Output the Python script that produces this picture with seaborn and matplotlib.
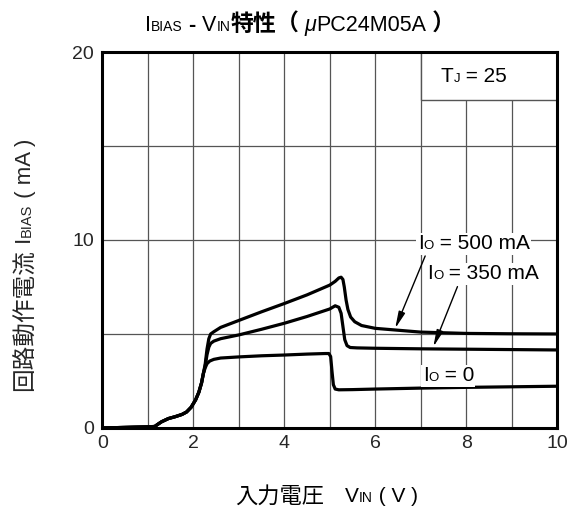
import numpy as np
import pandas as pd
import matplotlib
matplotlib.use("Agg")
import matplotlib.pyplot as plt
import seaborn as sns
from matplotlib.offsetbox import TextArea, HPacker, AnnotationBbox
from matplotlib.patches import Rectangle

# ---------------- data ----------------
vin_io0 = [0, 0.5, 1.0, 1.15, 1.22, 1.3, 1.45, 1.6, 1.75, 1.85, 1.95, 2.05, 2.12, 2.18, 2.22, 2.26,
           2.30, 2.36, 2.45, 2.6, 3.0, 3.5, 4.0, 4.5, 4.9, 4.98, 5.02, 5.05, 5.08, 5.12, 5.2,
           5.5, 6.0, 7.0, 8.0, 9.0, 10.0]
ibias_io0 = [0.0, 0.03, 0.06, 0.08, 0.2, 0.33, 0.5, 0.6, 0.72, 0.85, 1.1, 1.5, 1.9, 2.4, 2.9, 3.2,
             3.42, 3.56, 3.65, 3.72, 3.78, 3.84, 3.88, 3.93, 3.96, 3.96, 3.8, 3.0, 2.3, 2.07, 2.03,
             2.04, 2.07, 2.12, 2.16, 2.19, 2.22]

vin_io350 = [0, 0.5, 1.0, 1.15, 1.22, 1.3, 1.45, 1.6, 1.75, 1.85, 1.95, 2.05, 2.12, 2.18, 2.22, 2.26,
             2.30, 2.34, 2.38, 2.45, 2.6, 3.0, 3.5, 4.0, 4.5, 5.0, 5.12, 5.2, 5.25, 5.29, 5.33,
             5.38, 5.45, 5.6, 6.0, 7.0, 8.0, 9.0, 10.0]
ibias_io350 = [0.0, 0.03, 0.06, 0.08, 0.2, 0.33, 0.5, 0.6, 0.72, 0.85, 1.1, 1.5, 1.9, 2.4, 2.9, 3.3,
               3.9, 4.3, 4.5, 4.62, 4.75, 4.95, 5.25, 5.57, 5.93, 6.33, 6.5, 6.42, 6.1, 5.4, 4.7,
               4.38, 4.28, 4.26, 4.24, 4.21, 4.19, 4.17, 4.15]

vin_io500 = [0, 0.5, 1.0, 1.15, 1.22, 1.3, 1.45, 1.6, 1.75, 1.85, 1.95, 2.05, 2.12, 2.18, 2.22, 2.26,
             2.30, 2.34, 2.38, 2.45, 2.6, 3.0, 3.5, 4.0, 4.5, 5.0, 5.12, 5.2, 5.25, 5.29, 5.32,
             5.36, 5.40, 5.46, 5.55, 5.7, 6.0, 6.5, 7.0, 8.0, 9.0, 10.0]
ibias_io500 = [0.0, 0.03, 0.06, 0.08, 0.2, 0.33, 0.5, 0.6, 0.72, 0.85, 1.1, 1.5, 1.9, 2.4, 2.9, 3.4,
               4.2, 4.75, 5.0, 5.12, 5.35, 5.72, 6.18, 6.62, 7.08, 7.6, 7.8, 7.98, 8.02, 7.9, 7.5,
               6.8, 6.3, 5.9, 5.65, 5.45, 5.3, 5.2, 5.1, 5.03, 5.01, 5.0]

series_names = ["Io = 0", "Io = 350 mA", "Io = 500 mA"]
x_ticks = [0, 2, 4, 6, 8, 10]
y_ticks = [0, 10, 20]

df = pd.concat([
    pd.DataFrame({"vin": vin_io0, "ibias": ibias_io0, "series": series_names[0]}),
    pd.DataFrame({"vin": vin_io350, "ibias": ibias_io350, "series": series_names[1]}),
    pd.DataFrame({"vin": vin_io500, "ibias": ibias_io500, "series": series_names[2]}),
], ignore_index=True)

# ---------------- style ----------------
sns.set_style("white")
LAT = "Liberation Sans"
CJK = "Noto Sans CJK JP"
plt.rcParams["font.family"] = [LAT, CJK]

BIG = 14.5
SMALL = 9.5
GRID = "#555555"

fig = plt.figure(figsize=(5.79, 5.15), dpi=100)
ax = fig.add_axes([0.177, 0.169, 0.785, 0.730])

sns.lineplot(data=df, x="vin", y="ibias", hue="series",
             palette={n: "black" for n in series_names}, estimator=None, sort=False,
             legend=False, linewidth=2.3, ax=ax, zorder=3)

ax.set_xlim(0, 10)
ax.set_ylim(0, 20)
ax.set_xticks(x_ticks)
ax.set_xticklabels([str(v) for v in x_ticks])
ax.set_yticks(y_ticks)
ax.set_yticklabels([str(v) for v in y_ticks])
ax.tick_params(length=0, labelsize=14, pad=5)
ax.tick_params(axis="y", pad=6)
for lab in ax.get_xticklabels() + ax.get_yticklabels():
    lab.set_family(LAT)
ax.set_xlabel("")
ax.set_ylabel("")

for v in range(1, 10):
    ax.axvline(v, color=GRID, lw=0.9, zorder=1)
for v in (5, 10, 15):
    ax.axhline(v, color=GRID, lw=0.9, zorder=1)

for s in ax.spines.values():
    s.set_linewidth(2.2)
    s.set_color("black")
    s.set_zorder(6)

# Tj box
ax.add_patch(Rectangle((7, 17.45), 3, 2.55, facecolor="white", edgecolor=GRID, lw=1.0, zorder=2))


def rich(pieces):
    areas = []
    for t, fam, size, w, st in pieces:
        areas.append(TextArea(t, textprops=dict(family=fam, fontsize=size, fontweight=w,
                                                fontstyle=st, color="black")))
    return HPacker(children=areas, align="baseline", pad=0, sep=0)


def P(t, size=BIG, fam=LAT, w="normal", st="normal"):
    return (t, fam, size, w, st)


def place_in_ax(pieces, xy, bg=True):
    box = rich(pieces)
    ab = AnnotationBbox(box, xy, xycoords="data", frameon=bg, pad=0.1,
                        bboxprops=dict(facecolor="white", edgecolor="none"),
                        box_alignment=(0.5, 0.5), zorder=5, annotation_clip=False)
    ax.add_artist(ab)


def place_in_fig(pieces, xy):
    box = rich(pieces)
    ab = AnnotationBbox(box, xy, xycoords="figure fraction", frameon=False, pad=0,
                        box_alignment=(0.5, 0.5), annotation_clip=False)
    fig.add_artist(ab)


LBL = 15
place_in_ax([P("T", LBL), P("J", SMALL), P(" = 25", LBL)], (8.17, 18.72), bg=False)
place_in_ax([P("I", LBL), P("O", SMALL), P(" = 500 mA", LBL)], (8.17, 9.8))
place_in_ax([P("I", LBL), P("O", SMALL), P(" = 350 mA", LBL)], (8.38, 8.2))
place_in_ax([P("I", LBL), P("O", SMALL), P(" = 0", LBL)], (7.61, 2.78))

arrow_kw = dict(arrowstyle="-|>,head_length=1.0,head_width=0.2", color="black", lw=1.0,
                shrinkA=0, shrinkB=0)
ax.annotate("", xy=(6.44, 5.3), xytext=(7.1, 9.15), arrowprops=arrow_kw, zorder=4)
ax.annotate("", xy=(7.28, 4.32), xytext=(7.81, 7.52), arrowprops=arrow_kw, zorder=4)

# title
TB = 15.5
place_in_fig([P("I", TB), P("BIAS", 10), P(" - ", TB, LAT, "bold"), P("V", TB), P("IN", 10),
              P("特性", 16.5, CJK, "bold"), P("（", 16.5, CJK, "bold"), P(" μ", TB, LAT, "normal", "italic"),
              P("PC24M05A", TB), P(" ）", 16.5, CJK, "bold")], (0.518, 0.953))

# x label
place_in_fig([P("入力電圧", 16, CJK), P("　", 15, CJK), P("V", 15), P("IN", 10), P(" ( V )", 15)],
             (0.564, 0.037))

# rotated y label
fig.canvas.draw()
r = fig.canvas.get_renderer()
ypieces = [P("回路動作電流", 17, CJK), P(" I", 16), P("BIAS", 10.5), P(" ( mA )", 16)]
widths = []
for t, fam, size, w, st in ypieces:
    tmp = fig.text(0, 0, t, family=fam, fontsize=size)
    widths.append(tmp.get_window_extent(r).width)
    tmp.remove()
H = fig.bbox.height
ycur = (515 - 265.0) - sum(widths) / 2  # pixel from bottom
xbase = 31.0 / 579
for (t, fam, size, w, st), wd in zip(ypieces, widths):
    fig.text(xbase, ycur / H, t, family=fam, fontsize=size, rotation=90,
             rotation_mode="anchor", ha="left", va="baseline")
    ycur += wd

fig.savefig("out.png", dpi=100)
